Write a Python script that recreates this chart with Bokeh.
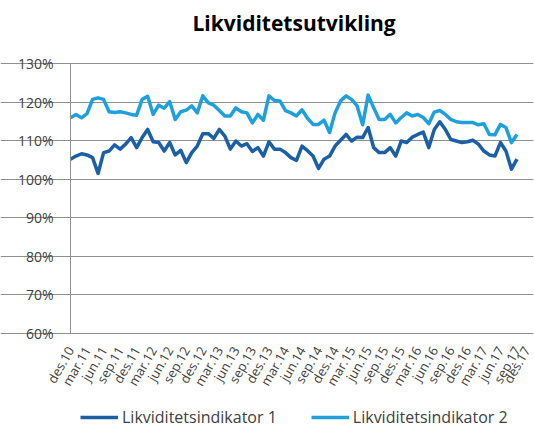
import math
from bokeh.plotting import figure
from bokeh.models import (FixedTicker, PrintfTickFormatter, Legend, LegendItem,
                          Title, Range1d, ColumnDataSource)
from bokeh.embed import file_html
from bokeh.resources import INLINE

title_text = "Likviditetsutvikling"
series_names = ["Likviditetsindikator 1", "Likviditetsindikator 2"]

tick_labels = ["des.10", "mar.11", "jun.11", "sep.11", "des.11", "mar.12", "jun.12",
               "sep.12", "des.12", "mar.13", "jun.13", "sep.13", "des.13", "mar.14",
               "jun.14", "sep.14", "des.14", "mar.15", "jun.15", "sep.15", "des.15",
               "mar.16", "jun.16", "sep.16", "des.16", "mar.17", "jun.17", "sep.17",
               "des.17"]

# monthly values (percent), des.10 .. sep.17
indikator_1 = [105.2, 106.0, 106.6, 106.3, 105.6, 101.5, 106.9, 107.3, 108.9, 107.8,
               109.1, 110.8, 108.2, 110.8, 112.9, 109.7, 109.5, 107.3, 109.5, 106.3,
               107.5, 104.3, 106.9, 108.6, 111.8, 111.8, 110.6, 112.9, 111.2, 107.8,
               109.9, 108.6, 109.2, 107.2, 108.2, 106.0, 109.7, 107.8, 107.8, 106.9,
               105.6, 104.9, 108.6, 107.4, 106.0, 102.8, 105.2, 106.0, 108.6, 110.1,
               111.6, 109.9, 110.9, 110.8, 113.4, 108.2, 106.9, 106.9, 108.2, 106.0,
               109.9, 109.5, 110.9, 111.6, 112.2, 108.2, 112.9, 114.9, 112.9, 110.3,
               109.9, 109.5, 109.7, 110.1, 109.1, 107.3, 106.3, 106.0, 109.5, 107.3,
               102.6, 105.2]
indikator_2 = [115.9, 116.8, 115.9, 117.0, 120.7, 121.1, 120.7, 117.5, 117.3, 117.5,
               117.2, 116.8, 116.6, 120.7, 121.5, 116.8, 119.2, 118.4, 120.1, 115.5,
               117.5, 117.9, 119.0, 117.2, 121.6, 119.8, 119.2, 117.8, 116.4, 116.4,
               118.5, 117.5, 117.2, 114.6, 116.8, 115.3, 121.6, 120.4, 120.3, 117.8,
               117.2, 116.4, 118.0, 115.8, 114.2, 114.2, 115.3, 112.1, 117.2, 120.3,
               121.6, 120.7, 119.0, 114.1, 121.8, 118.5, 115.5, 115.5, 116.8, 114.6,
               116.0, 117.2, 116.4, 116.8, 116.0, 114.4, 117.4, 117.8, 116.8, 115.5,
               114.9, 114.7, 114.7, 114.7, 114.1, 114.4, 111.6, 111.5, 114.2, 113.4,
               109.5, 111.6]
y_ticks = [60, 70, 80, 90, 100, 110, 120, 130]

months = list(range(len(indikator_1)))
tick_pos = [3 * i for i in range(len(tick_labels))]

FONT = "Open Sans"
TXT = "#404040"
DARK = "#1b5fa6"
LIGHT = "#1fa0dc"
GRID = "#8f8f8f"

# layout: the drawing frame also holds the axis labels and the legend.
# plot area: 463 px wide (70 px to its left), 270 px tall (11 px above, 95 px below)
PLOT_W, EXTRA_LEFT = 463, 70
PLOT_H, EXTRA_BELOW, EXTRA_ABOVE = 270, 95, 11
y_span = y_ticks[-1] - y_ticks[0]
x_lo = tick_pos[0] - EXTRA_LEFT * (tick_pos[-1] - tick_pos[0]) / PLOT_W
y_lo = y_ticks[0] - EXTRA_BELOW * y_span / PLOT_H
y_hi = y_ticks[-1] + EXTRA_ABOVE * y_span / PLOT_H

p = figure(width=534, height=428, output_backend="svg", toolbar_location=None,
           x_range=Range1d(x_lo, tick_pos[-1]), y_range=Range1d(y_lo, y_hi),
           min_border_left=0, min_border_right=1, min_border_top=63 - EXTRA_ABOVE,
           min_border_bottom=0, title=None)
p.outline_line_color = None
p.background_fill_color = "white"
p.border_fill_color = "white"

src = ColumnDataSource(dict(m=months, a=indikator_1, b=indikator_2))
r1 = p.line("m", "a", source=src, line_color=DARK, line_width=3.5, line_join="round")
r2 = p.line("m", "b", source=src, line_color=LIGHT, line_width=3.5, line_join="round")

# x axis drawn at the 60 % level
p.xaxis.fixed_location = y_ticks[0]
p.xaxis.bounds = (tick_pos[0], tick_pos[-1])
p.xaxis.ticker = FixedTicker(ticks=tick_pos)
p.xaxis.major_label_overrides = {pos: lab for pos, lab in zip(tick_pos, tick_labels)}
p.xaxis.major_label_orientation = math.radians(60)
p.xaxis.major_tick_line_color = None
p.xaxis.minor_tick_line_color = None
p.xaxis.major_tick_out = 0
p.xaxis.major_tick_in = 0
p.xaxis.major_label_standoff = 14
p.xaxis.axis_line_color = GRID
p.xaxis.major_label_text_font = FONT
p.xaxis.major_label_text_font_size = "13px"
p.xaxis.major_label_text_color = TXT

# y axis drawn at the first month
p.yaxis.fixed_location = tick_pos[0]
p.yaxis.ticker = FixedTicker(ticks=y_ticks)
p.yaxis.bounds = (y_ticks[0], y_ticks[-1])
p.yaxis.formatter = PrintfTickFormatter(format="%d%%")
p.yaxis.major_tick_line_color = None
p.yaxis.minor_tick_line_color = None
p.yaxis.major_tick_out = 0
p.yaxis.major_tick_in = 0
p.yaxis.major_label_standoff = 17
p.yaxis.axis_line_color = GRID
p.yaxis.major_label_text_font = FONT
p.yaxis.major_label_text_font_size = "14px"
p.yaxis.major_label_text_color = TXT

p.xgrid.grid_line_color = None
p.ygrid.grid_line_color = GRID
p.ygrid.grid_line_width = 1
p.ygrid.bounds = (tick_pos[0], tick_pos[-1])

legend = Legend(items=[LegendItem(label=series_names[0], renderers=[r1]),
                       LegendItem(label=series_names[1], renderers=[r2])],
                orientation="horizontal", location=(80, 0),
                glyph_width=38, glyph_height=14, label_height=14, label_standoff=4,
                spacing=34, padding=0, margin=0,
                border_line_color=None, background_fill_alpha=0,
                label_text_font=FONT, label_text_font_size="16px",
                label_text_color=TXT)
p.add_layout(legend)

# spacer between plot area and title, then the title itself
p.add_layout(Title(text=" ", text_font_size="2px", standoff=10), "above")
p.add_layout(Title(text=title_text, align="left", offset=192, standoff=4,
                   text_font=FONT, text_font_style="bold", text_font_size="21px",
                   text_color="#000000"), "above")

open("out.html", "w").write(file_html(p, INLINE))
